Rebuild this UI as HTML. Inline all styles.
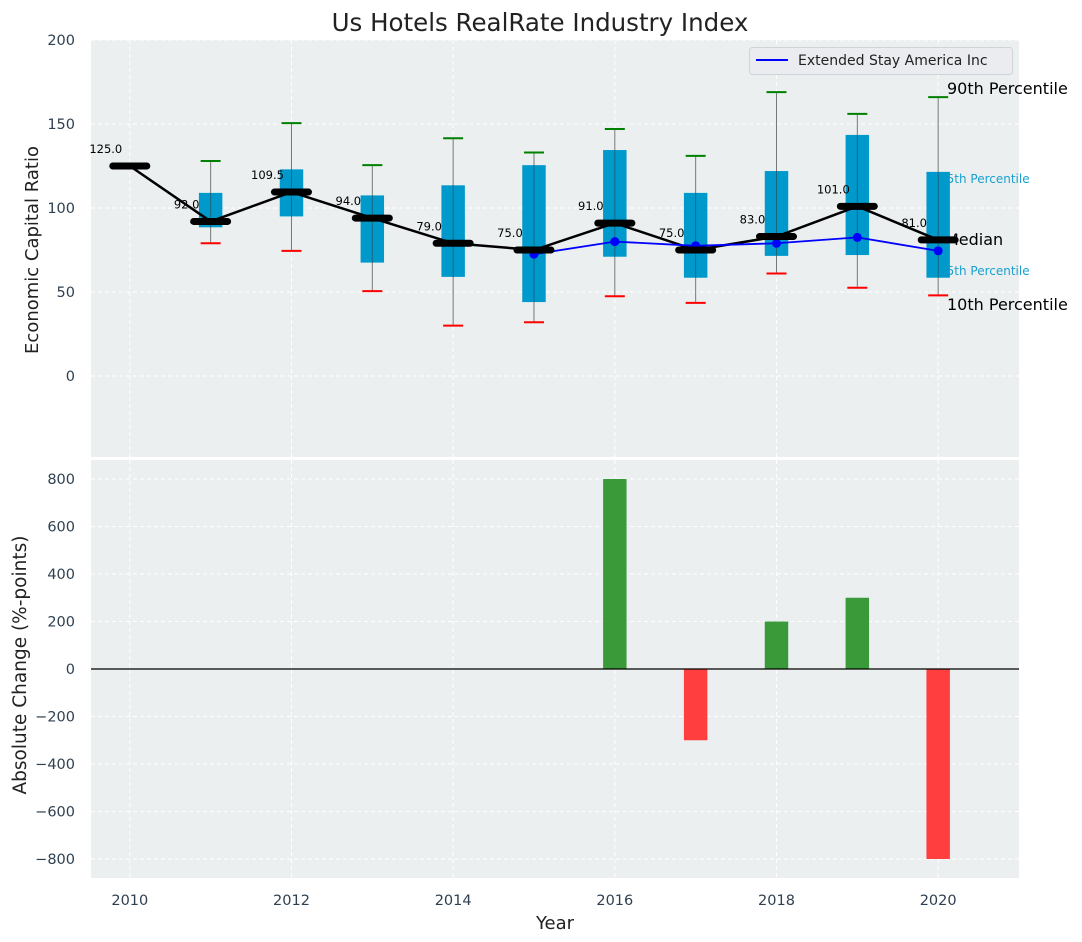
<!DOCTYPE html>
<html><head><meta charset="utf-8"><style>
body{margin:0;background:#fff;}
svg{display:block;font-family:"DejaVu Sans","Liberation Sans",sans-serif;}
</style></head><body>
<svg id="chart" width="1082" height="942" xmlns="http://www.w3.org/2000/svg"></svg>
<script>
const years=[2010,2011,2012,2013,2014,2015,2016,2017,2018,2019,2020];
const medians=[125,92,109.5,94,79,75,91,75,83,101,81];
const p90=[null,128,150.5,125.5,141.5,133,147,131,169,156,166];
const p75=[null,109,123,107.5,113.5,125.5,134.5,109,122,143.5,121.5];
const p25=[null,88.5,95,67.5,59,44,71,58.5,71.5,72,58.5];
const p10=[null,79,74.5,50.5,30,32,47.5,43.5,61,52.5,48];
const company=[null,null,null,null,null,72.5,80,77.5,79,82.5,74.5];
const changeYears=[2016,2017,2018,2019,2020];
const changes=[800,-300,200,300,-800];
const topTicks=[0,50,100,150,200];
const botTicks=[-800,-600,-400,-200,0,200,400,600,800];
const xTicks=[2010,2012,2014,2016,2018,2020];

const NS="http://www.w3.org/2000/svg";
const svg=document.getElementById('chart');
const L=91,R=1019;
const X=v=>L+(v-2009.52)/(21.0-9.52)*(R-L);
const T0=40,T1=457,Y1=v=>376-(v)*1.68;
const B0=460,B1=878,Y2=v=>669-v*0.2375;
function el(tag,attrs,parent){const e=document.createElementNS(NS,tag);for(const k in attrs)e.setAttribute(k,attrs[k]);(parent||svg).appendChild(e);return e;}
function txt(s,attrs){const e=el('text',attrs);e.textContent=s;return e;}

let p=el('rect',{x:L,y:T0,width:R-L,height:T1-T0,fill:'#ebeff0'});


p=el('rect',{x:L,y:B0,width:R-L,height:B1-B0,fill:'#ebeff0'});



xTicks.forEach(t=>{
  [[T0,T1],[B0,B1]].forEach(([a,b])=>{const g=el('line',{x1:X(t),x2:X(t),y1:a,y2:b,stroke:'#fff','stroke-dasharray':'4,3','stroke-width':1});});
});
topTicks.forEach(t=>{
  const g=el('line',{x1:L,x2:R,y1:Y1(t),y2:Y1(t),stroke:'#fff','stroke-dasharray':'4,3'});
  
  
  const l=txt(t,{x:75,y:Y1(t)+5,'text-anchor':'end','font-size':14.5,fill:'#2f4050'});
  
  
});
botTicks.forEach(t=>{
  const g=el('line',{x1:L,x2:R,y1:Y2(t),y2:Y2(t),stroke:'#fff','stroke-dasharray':'4,3'});
  
  
  const l=txt(t<0?'\u2212'+(-t):t,{x:75,y:Y2(t)+5,'text-anchor':'end','font-size':14.5,fill:'#2f4050'});
  
  
});
xTicks.forEach(t=>{
  const l=txt(t,{x:X(t),y:905,'text-anchor':'middle','font-size':14.5,fill:'#2f4050'});
  
  
});

const rl=[['90th Percentile',947,94,16,'#000'],['75th Percentile',939,183,12,'#1aa0d0'],['Median',945,245,16,'#000'],['25th Percentile',939,275,12,'#1aa0d0'],['10th Percentile',947,310,16,'#000']];
rl.forEach(r=>{const l=txt(r[0],{x:r[1],y:r[2],'font-size':r[3],fill:r[4]});});

years.forEach((yr,i)=>{
  if(p90[i]==null)return;
  const x=X(yr),bw=0.29*80.9;
  const w=el('line',{x1:x,x2:x,y1:Y1(p90[i]),y2:Y1(p10[i]),stroke:'#777','stroke-width':1});
  
  
  const b=el('rect',{x:x-bw/2,y:Y1(p75[i]),width:bw,height:Y1(p25[i])-Y1(p75[i]),fill:'#0099cc'});
  
  
  el('line',{x1:x,x2:x,y1:Y1(p75[i]),y2:Y1(p25[i]),stroke:'#333','stroke-width':1,'stroke-opacity':0.5});
  const c1=el('line',{x1:x-10,x2:x+10,y1:Y1(p90[i]),y2:Y1(p90[i]),stroke:'green','stroke-width':2});
  
  
  const c2=el('line',{x1:x-10,x2:x+10,y1:Y1(p10[i]),y2:Y1(p10[i]),stroke:'red','stroke-width':2});
  
  
});

let pts=years.map((y,i)=>X(y)+','+Y1(medians[i])).join(' ');
const ml=el('polyline',{points:pts,fill:'none',stroke:'#000','stroke-width':2.5});


const cp=[];years.forEach((y,i)=>{if(company[i]!=null)cp.push(X(y)+','+Y1(company[i]));});
const cl=el('polyline',{points:cp.join(' '),fill:'none',stroke:'#0000ff','stroke-width':1.8});


years.forEach((y,i)=>{if(company[i]==null)return;const d=el('circle',{cx:X(y),cy:Y1(company[i]),r:4.5,fill:'#0000ff'});});
years.forEach((y,i)=>{
  const x=X(y),yy=Y1(medians[i]);
  const m=el('line',{x1:x-17,x2:x+17,y1:yy,y2:yy,stroke:'#000','stroke-width':7,'stroke-linecap':'round'});
  
  
  const l=txt(medians[i].toFixed(1),{x:x-24,y:yy-13,'text-anchor':'middle','font-size':11.5,fill:'#000'});
  
  
});

changeYears.forEach((y,i)=>{
  const v=changes[i],bw=0.29*80.9;
  const b=el('rect',{x:X(y)-bw/2,y:Math.min(Y2(v),Y2(0)),width:bw,height:Math.abs(Y2(v)-Y2(0)),fill:v>=0?'#3a9a3a':'#ff3f3f'});
  
  
});
const zl=el('line',{x1:L,x2:R,y1:Y2(0),y2:Y2(0),stroke:'#000','stroke-width':1.2});



const lg=el('g',{});


el('rect',{x:749.5,y:47.5,width:263,height:27,rx:3,fill:'#eaecf0',stroke:'#d0d4d8'},lg);
el('line',{x1:756,x2:788,y1:60,y2:60,stroke:'#0000ff','stroke-width':2},lg);
const lt=el('text',{x:798,y:65,'font-size':14,fill:'#222'},lg);lt.textContent='Extended Stay America Inc';

let t=txt('Us Hotels RealRate Industry Index',{x:540,y:31,'text-anchor':'middle','font-size':24.5,fill:'#222'});

t=txt('Year',{x:555,y:929,'text-anchor':'middle','font-size':18,fill:'#222'});

t=txt('Economic Capital Ratio',{x:0,y:0,'text-anchor':'middle','font-size':18,fill:'#222',transform:'translate(38,250) rotate(-90)'});

t=txt('Absolute Change (%-points)',{x:0,y:0,'text-anchor':'middle','font-size':18.5,fill:'#222',transform:'translate(26,665) rotate(-90)'});

</script>
</body></html>
